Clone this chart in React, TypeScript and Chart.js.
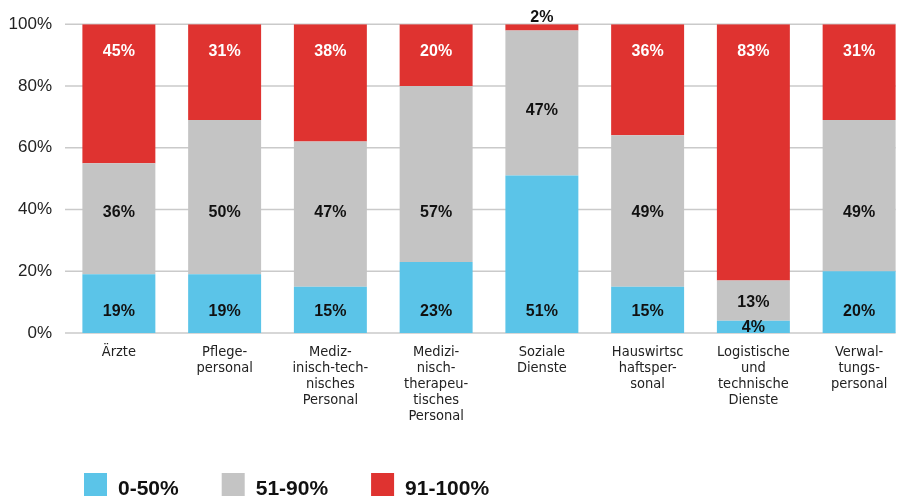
import React, { useEffect, useRef } from "react";
import { Chart, registerables } from "chart.js";

Chart.register(...registerables);

const categories: string[][] = [
  ["Ärzte"],
  ["Pflege-", "personal"],
  ["Mediz-", "inisch-tech-", "nisches", "Personal"],
  ["Medizi-", "nisch-", "therapeu-", "tisches", "Personal"],
  ["Soziale", "Dienste"],
  ["Hauswirtsc", "haftsper-", "sonal"],
  ["Logistische", "und", "technische", "Dienste"],
  ["Verwal-", "tungs-", "personal"],
];

const seriesNames = ["0-50%", "51-90%", "91-100%"];
const share0to50 = [19, 19, 15, 23, 51, 15, 4, 20];
const share51to90 = [36, 50, 47, 57, 47, 49, 13, 49];
const share91to100 = [45, 31, 38, 20, 2, 36, 83, 31];
const yTickValues = [0, 20, 40, 60, 80, 100];

const seriesColors = ["#5bc4e8", "#c4c4c4", "#df3330"];
const labelColors = ["#111111", "#111111", "#ffffff"];
// preferred value (in %) at which each series' labels sit
const labelAnchors = [7, 39, 91];

const FONT = '"Liberation Sans", Arial, Helvetica, sans-serif';
const NARROW = '"Liberation Sans Narrow", "DejaVu Sans Condensed", "Liberation Sans", sans-serif';

const gridPlugin = {
  id: "customGrid",
  beforeDatasetsDraw(chart: any) {
    const { ctx, chartArea } = chart;
    const y = chart.scales.y;
    const meta = chart.getDatasetMeta(0);
    const last: any = meta.data[meta.data.length - 1];
    const right = last.x + last.width / 2;
    ctx.save();
    ctx.strokeStyle = "#cacaca";
    ctx.lineWidth = 1.5;
    yTickValues.forEach((v) => {
      const py = y.getPixelForValue(v);
      ctx.beginPath();
      ctx.moveTo(chartArea.left - 1, py);
      ctx.lineTo(right, py);
      ctx.stroke();
    });
    ctx.restore();
  },
};

const labelPlugin = {
  id: "segmentLabels",
  afterDatasetsDraw(chart: any) {
    const { ctx } = chart;
    const y = chart.scales.y;
    const sets = chart.data.datasets;
    ctx.save();
    ctx.font = `bold 16px ${FONT}`;
    ctx.textAlign = "center";
    ctx.textBaseline = "middle";
    sets.forEach((ds: any, di: number) => {
      const meta = chart.getDatasetMeta(di);
      meta.data.forEach((bar: any, i: number) => {
        const v = ds.data[i] as number;
        let start = 0;
        for (let k = 0; k < di; k++) start += sets[k].data[i] as number;
        const end = start + v;
        const a = labelAnchors[di];
        let py: number;
        let color = labelColors[di];
        if (a >= start + 4 && a <= end - 4) {
          py = y.getPixelForValue(a);
        } else if (di === sets.length - 1 && v < 6) {
          py = y.getPixelForValue(end) - 7;
          color = "#111111";
        } else {
          py = y.getPixelForValue(start + (end - start) * 0.45);
        }
        ctx.fillStyle = color;
        ctx.fillText(`${v}%`, bar.x, py);
      });
    });
    ctx.restore();
  },
};

const legendPlugin = {
  id: "bottomLegend",
  afterDraw(chart: any) {
    const { ctx, chartArea } = chart;
    const sets = chart.data.datasets;
    const box = 23;
    const boxTop = chartArea.bottom + 140;
    let x = 84;
    ctx.save();
    ctx.font = `bold 21px ${FONT}`;
    ctx.textAlign = "left";
    ctx.textBaseline = "alphabetic";
    sets.forEach((ds: any) => {
      ctx.fillStyle = ds.backgroundColor;
      ctx.fillRect(x, boxTop, box, box);
      ctx.fillStyle = "#111111";
      const tx = x + box + 11;
      ctx.fillText(ds.label, tx, boxTop + 22);
      x = tx + ctx.measureText(ds.label).width + 43;
    });
    ctx.restore();
  },
};

export default function App() {
  const ref = useRef<HTMLCanvasElement | null>(null);

  useEffect(() => {
    if (!ref.current) return;
    const values = [share0to50, share51to90, share91to100];
    const chart = new Chart(ref.current, {
      type: "bar",
      data: {
        labels: categories,
        datasets: values.map((d, i) => ({
          label: seriesNames[i],
          data: d,
          backgroundColor: seriesColors[i],
          borderWidth: 0,
          barPercentage: 0.69,
          categoryPercentage: 1,
        })),
      },
      options: {
        responsive: false,
        maintainAspectRatio: false,
        animation: false,
        devicePixelRatio: 1,
        layout: { padding: { top: 22, left: 0, right: 0, bottom: 60 } },
        plugins: {
          legend: { display: false },
          tooltip: { enabled: false },
        },
        scales: {
          x: {
            stacked: true,
            grid: { display: false, drawTicks: false },
            border: { display: false },
            ticks: {
              autoSkip: false,
              maxRotation: 0,
              minRotation: 0,
              padding: 11,
              color: "#222222",
              font: { family: NARROW, size: 14.5, lineHeight: "16px" },
            },
            afterFit(scale: any) {
              scale.height = 106;
            },
          },
          y: {
            stacked: true,
            min: 0,
            max: 100,
            grid: { display: false, drawTicks: false },
            border: { display: false },
            ticks: {
              stepSize: 20,
              padding: 14,
              color: "#222222",
              font: { family: FONT, size: 17 },
              callback: (v: any) => `${v}%`,
            },
            afterFit(scale: any) {
              scale.width = 66;
            },
          },
        },
      },
      plugins: [gridPlugin, labelPlugin, legendPlugin],
    });
    return () => chart.destroy();
  }, []);

  return (
    <div
      style={{
        position: "absolute",
        left: 0,
        top: 0,
        width: 904,
        height: 499,
        overflow: "hidden",
        background: "#ffffff",
      }}
    >
      <canvas ref={ref} width={912} height={499} style={{ display: "block" }} />
    </div>
  );
}
